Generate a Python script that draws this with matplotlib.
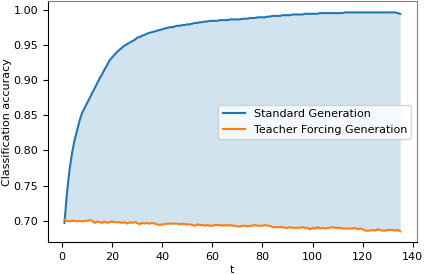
import matplotlib
matplotlib.use("Agg")
import matplotlib.pyplot as plt
import numpy as np

# accuracy per step t = 1..135
t = np.arange(1, 136)

standard = [
    0.697, 0.740, 0.772, 0.796, 0.814, 0.828, 0.842, 0.853, 0.860, 0.867,
    0.874, 0.881, 0.888, 0.895, 0.902, 0.908, 0.915, 0.921, 0.928, 0.932,
    0.936, 0.940, 0.943, 0.946, 0.949, 0.951, 0.953, 0.955, 0.957, 0.960,
    0.961, 0.963, 0.964, 0.966, 0.967, 0.968, 0.969, 0.970, 0.971, 0.972,
    0.973, 0.974, 0.975, 0.975, 0.976, 0.977, 0.977, 0.978, 0.978, 0.979,
    0.979, 0.980, 0.981, 0.981, 0.982, 0.982, 0.983, 0.983, 0.984, 0.984,
    0.984, 0.984, 0.985, 0.985, 0.985, 0.985, 0.986, 0.986, 0.986, 0.986,
    0.986, 0.987, 0.987, 0.987, 0.988, 0.988, 0.988, 0.989, 0.989, 0.989,
    0.989, 0.990, 0.990, 0.991, 0.991, 0.991, 0.991, 0.992, 0.992, 0.992,
    0.992, 0.993, 0.993, 0.993, 0.993, 0.993, 0.994, 0.994, 0.994, 0.994,
    0.994, 0.994, 0.995, 0.995, 0.995, 0.995, 0.995, 0.995, 0.995, 0.995,
    0.995, 0.995, 0.996, 0.996, 0.996, 0.996, 0.996, 0.996, 0.996, 0.996,
    0.996, 0.996, 0.996, 0.996, 0.996, 0.996, 0.996, 0.996, 0.996, 0.996,
    0.996, 0.996, 0.996, 0.995, 0.994,
]

teacher = [
    0.702, 0.700, 0.699, 0.700, 0.700, 0.699, 0.700, 0.699, 0.700, 0.700,
    0.701, 0.700, 0.697, 0.699, 0.698, 0.697, 0.699, 0.697, 0.698, 0.699,
    0.698, 0.698, 0.698, 0.697, 0.698, 0.696, 0.698, 0.697, 0.698, 0.697,
    0.695, 0.697, 0.696, 0.697, 0.696, 0.697, 0.696, 0.695, 0.694, 0.695,
    0.695, 0.696, 0.696, 0.696, 0.696, 0.696, 0.695, 0.696, 0.695, 0.695,
    0.695, 0.694, 0.693, 0.695, 0.694, 0.694, 0.693, 0.694, 0.693, 0.693,
    0.694, 0.694, 0.694, 0.693, 0.694, 0.693, 0.694, 0.693, 0.693, 0.692,
    0.692, 0.693, 0.693, 0.692, 0.693, 0.693, 0.694, 0.693, 0.693, 0.693,
    0.694, 0.693, 0.693, 0.691, 0.691, 0.691, 0.691, 0.691, 0.690, 0.690,
    0.691, 0.690, 0.690, 0.690, 0.690, 0.691, 0.690, 0.690, 0.688, 0.690,
    0.689, 0.691, 0.689, 0.690, 0.689, 0.690, 0.690, 0.691, 0.690, 0.690,
    0.690, 0.689, 0.689, 0.689, 0.689, 0.689, 0.690, 0.688, 0.689, 0.688,
    0.686, 0.686, 0.686, 0.687, 0.686, 0.688, 0.687, 0.686, 0.686, 0.687,
    0.687, 0.687, 0.686, 0.687, 0.685,
]

labels = ["Standard Generation", "Teacher Forcing Generation"]

plt.rcParams["font.size"] = 8

fig = plt.figure(figsize=(4.24, 2.74), dpi=100)
ax = fig.add_axes([0.1125, 0.1157, 0.871, 0.879])

ax.plot(t, standard, color="C0", linewidth=1.5, label=labels[0])
ax.plot(t, teacher, color="C1", linewidth=1.5, label=labels[1])
ax.fill_between(t, teacher, standard, color="C0", alpha=0.2, linewidth=0)

ax.set_xticks([0, 20, 40, 60, 80, 100, 120, 140])
ax.set_yticks([0.70, 0.75, 0.80, 0.85, 0.90, 0.95, 1.00])
ax.set_xlabel("t", labelpad=2)
ax.set_ylabel("Classification accuracy", labelpad=1)
ax.spines["top"].set_color("0.5")
ax.spines["right"].set_color("0.5")
ax.legend(loc="center right", fontsize=8)

fig.savefig("out.png", dpi=100)
